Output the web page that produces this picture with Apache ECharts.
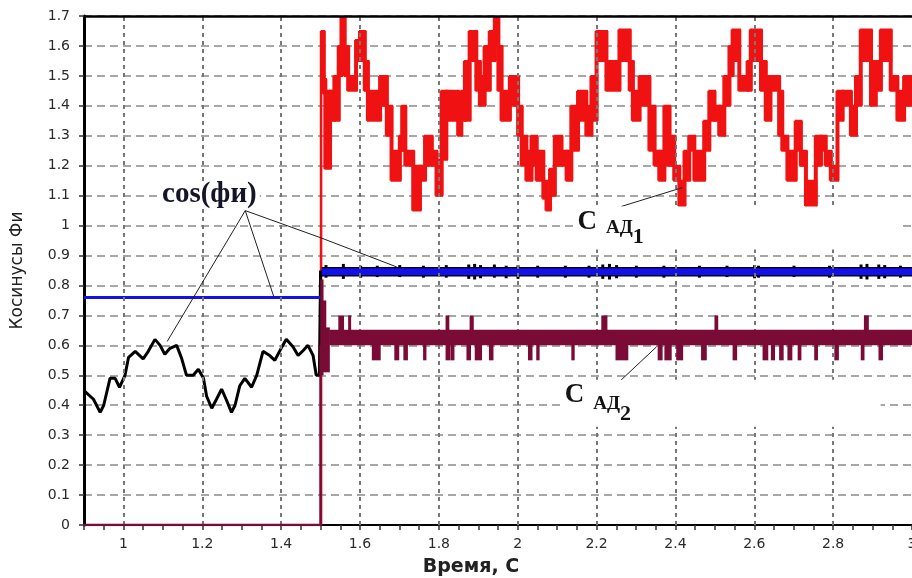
<!DOCTYPE html>
<html><head><meta charset="utf-8">
<script src="https://cdn.jsdelivr.net/npm/echarts@6/dist/echarts.min.js"></script>
<style>html,body{margin:0;padding:0;background:#fff}#c{width:912px;height:578px}</style>
</head><body><div id="c"></div>
<script>
// ---------- data ----------
const xLabelValues = [1, 1.2, 1.4, 1.6, 1.8, 2, 2.2, 2.4, 2.6, 2.8, 3];
const xGridValues = [1, 1.2, 1.4, 1.6, 1.8, 2, 2.2, 2.4, 2.6, 2.8];

// cos(фи) before switching (black)
const blackX = [0.9,0.924,0.941,0.95,0.966,0.979,0.99,1.004,1.013,1.03,1.05,1.063,1.08,1.093,1.105,1.118,1.135,1.148,1.16,1.177,1.19,1.203,1.211,1.224,1.236,1.249,1.262,1.274,1.283,1.295,1.308,1.325,1.338,1.354,1.371,1.384,1.40,1.413,1.43,1.443,1.456,1.468,1.481,1.489,1.497,1.500];
const blackV = [0.449,0.42,0.376,0.40,0.49,0.49,0.46,0.50,0.56,0.58,0.555,0.58,0.62,0.60,0.57,0.59,0.60,0.555,0.50,0.50,0.52,0.49,0.43,0.39,0.42,0.454,0.415,0.376,0.40,0.465,0.49,0.46,0.50,0.58,0.566,0.55,0.59,0.62,0.595,0.566,0.583,0.60,0.566,0.50,0.50,0.85];
// black noisy band after switching
const blackBand = [1.503, 3.0, 0.830, 0.862];
const blackNoiseX  = [1.513,1.557,1.601,1.643,1.70,1.76,1.818,1.875,1.89,1.905,1.94,1.97,2.0,2.05,2.12,2.18,2.215,2.232,2.25,2.30,2.37,2.46,2.53,2.60,2.61,2.70,2.79,2.87,2.885,2.915,2.93,2.97];
const blackNoiseLo = [0.826,0.822,0.826,0.828,0.828,0.826,0.826,0.822,0.82,0.824,0.826,0.824,0.822,0.826,0.826,0.826,0.822,0.82,0.824,0.826,0.826,0.826,0.828,0.824,0.826,0.828,0.826,0.822,0.82,0.822,0.824,0.826];
const blackNoiseHi = [0.868,0.872,0.866,0.866,0.868,0.866,0.868,0.870,0.872,0.868,0.870,0.866,0.868,0.866,0.866,0.866,0.870,0.872,0.868,0.866,0.866,0.866,0.866,0.868,0.866,0.866,0.866,0.870,0.872,0.870,0.868,0.866];

// blue line
const bluePre = [[0.9, 0.76], [1.5, 0.76]];
const bluePost = [[1.503, 0.846], [3.0, 0.846]];

// C АД1 (red) staircase blocks: start time, low, high (block ends at next start)
const redStart = [1.498,1.503,1.508,1.512,1.524,1.535,1.546,1.553,1.561,1.570,1.590,1.600,1.612,1.620,1.651,1.668,1.680,1.701,1.707,1.715,1.735,1.752,1.765,1.782,1.794,1.807,1.819,1.849,1.857,1.866,1.878,1.895,1.904,1.916,1.929,1.942,1.951,1.959,1.980,2.001,2.010,2.022,2.035,2.048,2.065,2.073,2.082,2.094,2.111,2.124,2.136,2.153,2.174,2.187,2.200,2.225,2.258,2.284,2.292,2.309,2.334,2.347,2.359,2.372,2.385,2.397,2.410,2.423,2.435,2.448,2.473,2.486,2.499,2.511,2.524,2.537,2.545,2.562,2.583,2.591,2.617,2.629,2.641,2.663,2.671,2.684,2.705,2.718,2.731,2.756,2.769,2.781,2.794,2.811,2.824,2.845,2.858,2.870,2.896,2.908,2.921,2.946,2.963,2.980];
const redLo = [0,1.46,1.44,1.19,1.35,1.35,1.50,1.55,1.50,1.45,1.55,1.55,1.45,1.35,1.40,1.30,1.15,1.25,1.25,1.20,1.05,1.15,1.20,1.20,1.10,1.22,1.35,1.30,1.35,1.35,1.55,1.45,1.40,1.45,1.55,1.60,1.45,1.35,1.40,1.30,1.20,1.15,1.20,1.15,1.09,1.05,1.10,1.20,1.20,1.15,1.25,1.35,1.30,1.35,1.55,1.45,1.55,1.45,1.35,1.40,1.25,1.20,1.15,1.20,1.20,1.15,1.065,1.15,1.25,1.15,1.25,1.35,1.35,1.30,1.40,1.50,1.55,1.45,1.45,1.55,1.45,1.35,1.45,1.30,1.25,1.15,1.25,1.20,1.065,1.20,1.25,1.20,1.15,1.35,1.40,1.30,1.40,1.55,1.40,1.45,1.55,1.45,1.35,1.40];
const redHi = [1.65,1.65,1.49,1.45,1.45,1.50,1.60,1.70,1.60,1.50,1.62,1.65,1.55,1.45,1.50,1.40,1.25,1.30,1.40,1.25,1.20,1.20,1.30,1.25,1.22,1.45,1.45,1.40,1.45,1.55,1.65,1.55,1.50,1.60,1.65,1.71,1.60,1.45,1.50,1.40,1.30,1.25,1.30,1.25,1.15,1.10,1.19,1.30,1.25,1.25,1.40,1.45,1.40,1.50,1.65,1.55,1.655,1.55,1.45,1.50,1.40,1.25,1.25,1.40,1.30,1.20,1.15,1.25,1.30,1.25,1.35,1.45,1.40,1.40,1.50,1.60,1.655,1.50,1.55,1.655,1.55,1.50,1.50,1.45,1.30,1.25,1.35,1.25,1.15,1.30,1.30,1.25,1.20,1.45,1.45,1.40,1.50,1.655,1.55,1.55,1.655,1.50,1.45,1.50];
const tEnd = 3.0;

// C АД2 (maroon)
const ad2Pre = [[0.9, 0], [1.5, 0], [1.5, 0.6]];
const ad2Transient = [[1.499, 1.506, 0.50, 0.82], [1.506, 1.513, 0.51, 0.75], [1.513, 1.522, 0.51, 0.66]];
const ad2Band = [1.522, 3.0, 0.600, 0.652];
const ad2UpStart = [1.545,1.570,1.817,1.878,2.212,2.499,2.878];
const ad2UpEnd   = [1.558,1.576,1.825,1.887,2.226,2.507,2.889];
const ad2UpTop = 0.70;
const ad2DownStart = [1.630,1.687,1.710,1.760,1.817,1.830,1.870,1.891,1.927,2.026,2.047,2.136,2.248,2.355,2.372,2.402,2.465,2.545,2.621,2.642,2.663,2.684,2.710,2.752,2.803,2.870,2.915];
const ad2DownEnd   = [1.651,1.698,1.720,1.767,1.828,1.838,1.880,1.908,1.937,2.036,2.054,2.143,2.279,2.366,2.389,2.418,2.478,2.555,2.634,2.651,2.673,2.695,2.718,2.760,2.813,2.878,2.925];
const ad2DownBottom = 0.55;

// annotation leader lines (data coordinates)
const cosLeaderA = [[1.309, 1.050], [1.111, 0.613]];
const cosLeaderB = [[1.309, 1.050], [1.381, 0.764]];
const cosLeaderC = [[1.309, 1.050], [1.499, 0.960], [1.693, 0.862]];
const ad1Leader = [[2.263, 1.064], [2.418, 1.127]];
const ad2Leader = [[2.241, 0.458], [2.352, 0.595]];
const cosLabelAt = [1.218, 1.104];
const ad1LabelAt = [2.149, 1.064];
const ad2LabelAt = [2.114, 0.485];

// ---------- build ----------
const RED = '#f01212', MAROON = '#7a0a36', BLUE = '#1212e8', BLACK = '#000';
const redRows = redStart.map((x, i) => [x, i < redStart.length - 1 ? redStart[i + 1] : tEnd, redLo[i], redHi[i]]);
const blackRows = [blackBand].concat(blackNoiseX.map((x, i) => [x - 0.003, x + 0.003, blackNoiseLo[i], blackNoiseHi[i]]));
const ad2Rows = ad2Transient.concat([ad2Band])
  .concat(ad2UpStart.map((x, i) => [x, ad2UpEnd[i], ad2Band[3] - 0.004, ad2UpTop]))
  .concat(ad2DownStart.map((x, i) => [x, ad2DownEnd[i], ad2DownBottom, ad2Band[2] + 0.004]));

function blockRender(rows, color, connW, stroke) {
  return function (params, api) {
    const i = params.dataIndex, r = rows[i];
    const a = api.coord([r[0], r[3]]), b = api.coord([r[1], r[2]]);
    const st = stroke ? { fill: color, stroke: color, lineWidth: stroke } : { fill: color };
    const kids = [{ type: 'rect', shape: { x: a[0], y: a[1], width: Math.max(b[0] - a[0] + 0.6, 1.4), height: Math.max(b[1] - a[1], 1) }, style: i === 0 && stroke ? { fill: color } : st }];
    if (connW && i > 0) {
      const p = rows[i - 1];
      if (p[2] > 0) {
        const t = api.coord([r[0], Math.max(p[3], r[3])]);
        const bt = api.coord([r[0], Math.min(p[2], r[2])]);
        kids.push({ type: 'rect', shape: { x: t[0] - connW / 2, y: t[1], width: connW, height: bt[1] - t[1] }, style: { fill: color } });
      }
    }
    return { type: 'group', children: kids };
  };
}
function blockSeries(rows, color, connW, z, stroke) {
  return { type: 'custom', data: rows, encode: { x: [0, 1], y: [2, 3] }, renderItem: blockRender(rows, color, connW, stroke), clip: true, z: z, silent: true, animation: false };
}
function lineSeries(data, color, width, z) {
  return { type: 'line', data: data, symbol: 'none', showSymbol: false, lineStyle: { color: color, width: width }, itemStyle: { color: color }, z: z, silent: true, animation: false, clip: true };
}

const labelFont = { fontFamily: 'DejaVu Sans', fontSize: 14, color: '#2a2a2a' };
const chart = echarts.init(document.getElementById('c'));
chart.setOption({
  animation: false,
  backgroundColor: '#fff',
  grid: { left: 84, right: 0, top: 16, bottom: 53, containLabel: false, outerBoundsMode: 'none' },
  xAxis: {
    type: 'value', min: 0.9, max: 3.0, interval: 0.05,
    axisLine: { show: true, onZero: false, lineStyle: { color: '#000', width: 2 } },
    axisTick: { show: true, length: 5, lineStyle: { color: '#333', width: 1.5 } },
    axisLabel: Object.assign({ margin: 12, formatter: function (v) {
      for (const t of xLabelValues) { if (Math.abs(t - v) < 1e-6) return String(t); }
      return '';
    } }, labelFont),
    splitLine: { show: false },
    name: 'Время, С', nameLocation: 'middle', nameGap: 33,
    nameTextStyle: { fontFamily: 'DejaVu Sans', fontWeight: 'bold', fontSize: 19, color: '#222', padding: [0, 54, 0, 0] }
  },
  yAxis: {
    type: 'value', min: 0, max: 1.7, interval: 0.1,
    axisLine: { show: true, lineStyle: { color: '#000', width: 3 } },
    axisTick: { show: true, length: 5, lineStyle: { color: '#333', width: 1.5 } },
    axisLabel: Object.assign({ margin: 14 }, labelFont),
    splitLine: { show: true, lineStyle: { color: '#8a8a8a', width: 1.5, type: [8, 5] } },
    name: 'Косинусы Фи', nameLocation: 'middle', nameGap: 58, nameRotate: 90,
    nameTextStyle: { fontFamily: 'DejaVu Sans', fontSize: 17, color: '#222' }
  },
  series: [
    { type: 'line', data: [], z: 1, silent: true, animation: false,
      markLine: { silent: true, animation: false, symbol: ['none', 'none'], label: { show: false },
        lineStyle: { color: '#777', width: 2, type: [4, 4] },
        data: xGridValues.map(v => ({ xAxis: v })).concat([{ yAxis: 1.7, lineStyle: { color: '#000', width: 2.5, type: 'solid' } }]) } },
    blockSeries(redRows, RED, 4, 2, 2),
    lineSeries(blackX.map((x, i) => [x, blackV[i]]), BLACK, 3, 3),
    blockSeries(blackRows, BLACK, 0, 3),
    lineSeries(bluePre, BLUE, 3, 4),
    lineSeries(bluePost, BLUE, 7, 4),
    lineSeries(ad2Pre, MAROON, 2.5, 5),
    blockSeries(ad2Rows, MAROON, 0, 5),
    lineSeries(cosLeaderA, '#222', 1, 6),
    lineSeries(cosLeaderB, '#222', 1, 6),
    lineSeries(cosLeaderC, '#222', 1, 6),
    lineSeries(ad1Leader, '#222', 1, 6),
    lineSeries(ad2Leader, '#222', 1, 6)
  ]
});

const px = p => chart.convertToPixel({ gridIndex: 0 }, p);
const serif = '"Liberation Serif", "Times New Roman", serif';
function adRich(lh, cTop, subLh) {
  return {
    c: { font: 'bold 27px ' + serif, lineHeight: cTop, verticalAlign: 'top' },
    a: { font: 'bold 19px ' + serif, lineHeight: lh, verticalAlign: 'middle' },
    s: { font: 'bold 22px ' + serif, lineHeight: subLh, verticalAlign: 'bottom' }
  };
}
const pc = px(cosLabelAt), p1 = px(ad1LabelAt), p2 = px(ad2LabelAt);
chart.setOption({
  graphic: [
    { type: 'text', z: 100, x: pc[0], y: pc[1], silent: true,
      style: { text: 'cos(фи)', font: 'bold 29px ' + serif, fill: '#15152a', align: 'center', verticalAlign: 'middle', backgroundColor: '#fff', padding: [0, 3], lineHeight: 22 } },
    { type: 'text', z: 100, x: p1[0], y: p1[1], silent: true,
      style: { text: '{c|С}  {a|АД}{s|1}', font: 'bold 18px ' + serif, fill: '#141414', align: 'left', verticalAlign: 'top', backgroundColor: '#fff', width: 322, padding: [2, 0, 1, 1], rich: adRich(40, 32, 23) } },
    { type: 'text', z: 100, x: p2[0], y: p2[1], silent: true,
      style: { text: '{c|С}  {a|АД}{s|2}', font: 'bold 18px ' + serif, fill: '#141414', align: 'left', verticalAlign: 'top', backgroundColor: '#fff', width: 316, padding: [2, 0, 1, 2], rich: adRich(44, 33, 31) } }
  ]
});
</script>
</body></html>
